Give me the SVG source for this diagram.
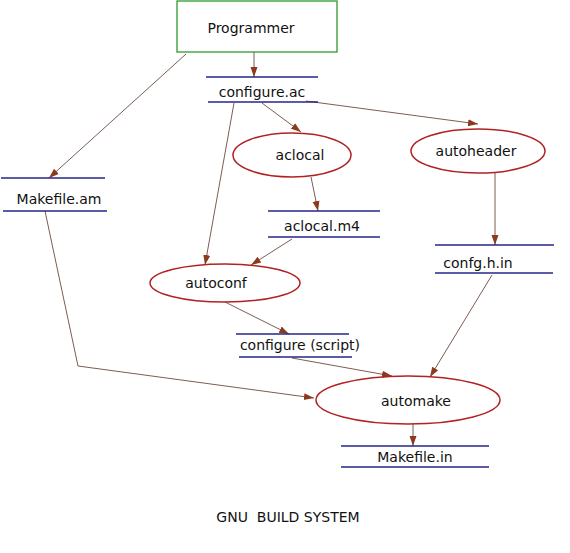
<svg xmlns="http://www.w3.org/2000/svg" width="570" height="553" viewBox="0 0 570 553">
<style>
text{font-family:"DejaVu Sans",Verdana,sans-serif;font-size:14px;fill:#111;text-anchor:middle}
.box{fill:none;stroke:#2e9a2e;stroke-width:1.3}
.ell{fill:none;stroke:#b22222;stroke-width:1.5}
.bar{stroke:#25258a;stroke-width:1.5}
.con{fill:none;stroke:#6e4a40;stroke-width:0.9}
</style>
<defs>
<marker id="ah" viewBox="0 0 10 10" refX="10" refY="5" markerWidth="10" markerHeight="10" markerUnits="userSpaceOnUse" orient="auto">
<path d="M0,1.5 L10,5 L0,8.5 z" fill="#8b3a1e"/>
</marker>
</defs>
<rect width="570" height="553" fill="#fff"/>
<g id="connectors">
<path class="con" d="M254,52 L254,77" marker-end="url(#ah)"/>
<path class="con" d="M186,54 L49,178" marker-end="url(#ah)"/>
<path class="con" d="M262,103 L301,132" marker-end="url(#ah)"/>
<path class="con" d="M306,101 L478,124" marker-end="url(#ah)"/>
<path class="con" d="M234,103 L205,265" marker-end="url(#ah)"/>
<path class="con" d="M311,177 L318,211" marker-end="url(#ah)"/>
<path class="con" d="M292,239 L251,265" marker-end="url(#ah)"/>
<path class="con" d="M495,173 L495,245" marker-end="url(#ah)"/>
<path class="con" d="M492,275 L430,377" marker-end="url(#ah)"/>
<path class="con" d="M225,302 L289,334" marker-end="url(#ah)"/>
<path class="con" d="M292,358 L392,376" marker-end="url(#ah)"/>
<path class="con" d="M45,211 L78,366 L314,398" marker-end="url(#ah)"/>
<path class="con" d="M413,424 L413,446" marker-end="url(#ah)"/>
</g>
<g id="programmer">
<rect class="box" x="177" y="1" width="160" height="51"/>
<text x="251" y="33">Programmer</text>
</g>
<g id="configure_ac">
<line class="bar" x1="206" y1="77" x2="318" y2="77"/>
<line class="bar" x1="208" y1="102" x2="318" y2="102"/>
<text x="262" y="97">configure.ac</text>
</g>
<g id="makefile_am">
<line class="bar" x1="1" y1="178" x2="105" y2="178"/>
<line class="bar" x1="3" y1="211" x2="107" y2="211"/>
<text x="59" y="204">Makefile.am</text>
</g>
<g id="aclocal">
<ellipse class="ell" cx="292" cy="155" rx="59" ry="22"/>
<text x="300" y="160">aclocal</text>
</g>
<g id="autoheader">
<ellipse class="ell" cx="478" cy="151" rx="67" ry="22"/>
<text x="476" y="156">autoheader</text>
</g>
<g id="aclocal_m4">
<line class="bar" x1="268" y1="211" x2="380" y2="211"/>
<line class="bar" x1="268" y1="237" x2="380" y2="237"/>
<text x="322" y="231">aclocal.m4</text>
</g>
<g id="confg_h_in">
<line class="bar" x1="435" y1="245" x2="554" y2="245"/>
<line class="bar" x1="435" y1="273" x2="553" y2="273"/>
<text x="478" y="268">confg.h.in</text>
</g>
<g id="autoconf">
<ellipse class="ell" cx="225" cy="283" rx="75" ry="19"/>
<text x="216" y="288">autoconf</text>
</g>
<g id="configure_script">
<line class="bar" x1="236" y1="334" x2="349" y2="334"/>
<line class="bar" x1="239" y1="357" x2="352" y2="357"/>
<text x="300" y="350">configure (script)</text>
</g>
<g id="automake">
<ellipse class="ell" cx="408" cy="400" rx="92" ry="24"/>
<text x="416" y="406">automake</text>
</g>
<g id="makefile_in">
<line class="bar" x1="341" y1="446" x2="489" y2="446"/>
<line class="bar" x1="341" y1="467" x2="489" y2="467"/>
<text x="415" y="462">Makefile.in</text>
</g>
<text x="288" y="522" xml:space="preserve">GNU  BUILD SYSTEM</text>
</svg>
